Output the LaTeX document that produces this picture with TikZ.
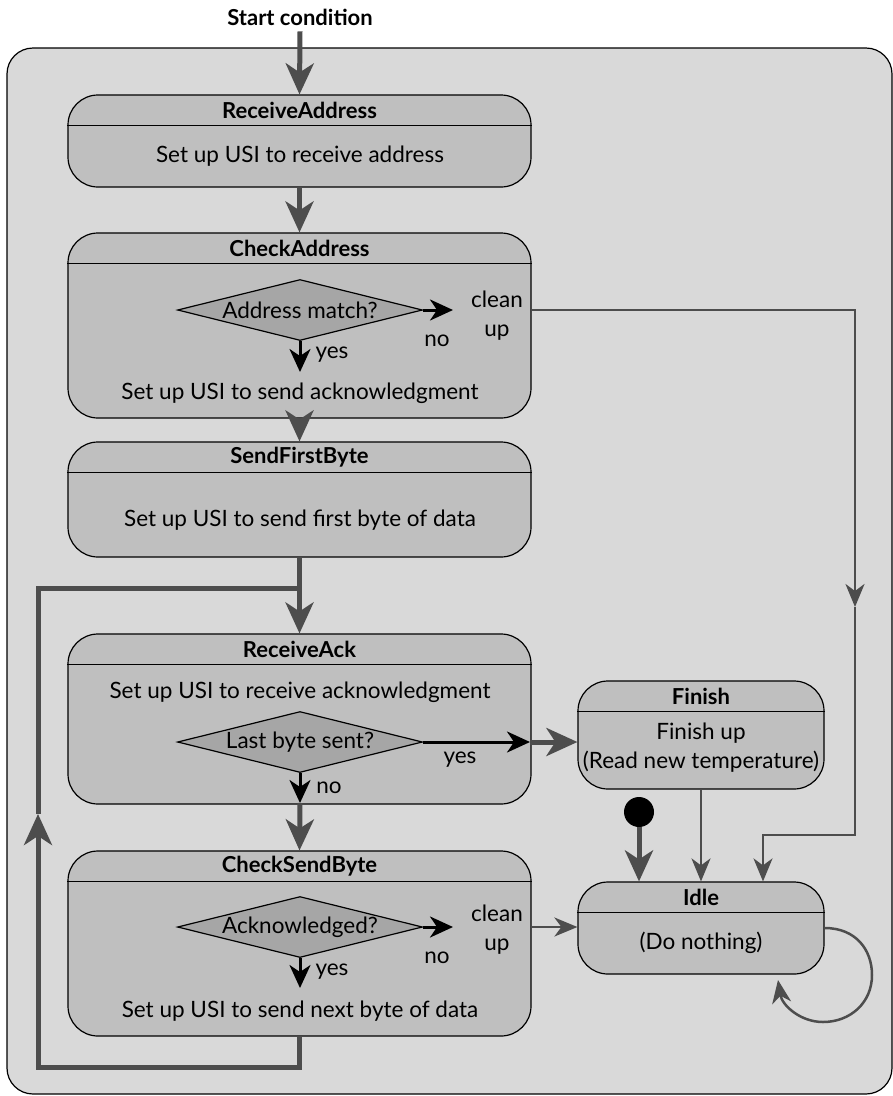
\documentclass[tikz,border=0pt]{standalone}
\usepackage{fontspec}
\setmainfont{Lato}
\usetikzlibrary{arrows.meta,shapes.geometric}

\definecolor{outerbg}{HTML}{D9D9D9}
\definecolor{statefill}{HTML}{BFBFBF}
\definecolor{decfill}{HTML}{A6A6A6}
\definecolor{flowgray}{HTML}{4D4D4D}

\tikzset{
  statebox/.style={draw=black,fill=statefill,line width=1.2pt,rounded corners=30pt,inner sep=0pt},
  decbox/.style={draw=black,fill=decfill,line width=1.2pt,diamond,aspect=4,inner sep=0pt,
    minimum width=245pt,minimum height=61pt},
  titletext/.style={font=\fontsize{22pt}{26pt}\selectfont\bfseries,inner sep=0pt},
  twoline/.style={align=center,font=\fontsize{22.5pt}{29pt}\selectfont,inner sep=0pt},
  gthick/.style={draw=flowgray,line width=5pt,-{Stealth[length=31pt,width=28pt,inset=9pt]}},
  gthin/.style={draw=flowgray,line width=2.5pt,-{Stealth[length=23pt,width=19pt,inset=7pt]}},
  barrow/.style={draw=black,line width=3pt,-{Stealth[length=23pt,width=21pt,inset=7pt]}}
}

\begin{document}
\begin{tikzpicture}[x=1pt,y=-1pt,font=\fontsize{22.5pt}{27pt}\selectfont]
\useasboundingbox (0,0) rectangle (893,1096);
\filldraw[fill=outerbg,draw=black,line width=1.2pt,rounded corners=26pt] (7,48) rectangle (892,1094);

% states
\node[statebox,minimum width=463pt,minimum height=92pt] (recvaddr) at (299.5,141) {};
\node[statebox,minimum width=463pt,minimum height=185pt] (chkaddr) at (299.5,325.5) {};
\node[statebox,minimum width=463pt,minimum height=115pt] (sendfirst) at (299.5,499.5) {};
\node[statebox,minimum width=463pt,minimum height=170pt] (recvack) at (299.5,719) {};
\node[statebox,minimum width=463pt,minimum height=185pt] (chksend) at (299.5,943.5) {};
\node[statebox,minimum width=246pt,minimum height=108pt] (finish) at (701,735) {};
\node[statebox,minimum width=246pt,minimum height=92pt] (idle) at (701,928) {};

\foreach \s/\t in {recvaddr/ReceiveAddress,chkaddr/CheckAddress,sendfirst/SendFirstByte,
    recvack/ReceiveAck,chksend/CheckSendByte,finish/Finish,idle/Idle} {
  \draw[line width=1.2pt] ([yshift=-31pt]\s.north west) -- ([yshift=-31pt]\s.north east);
  \node[titletext] (\s-title) at ([yshift=-16pt]\s.north) {\t};
}

\node (recvaddr-b) at (300,156) {Set up USI to receive address};
\node (chkaddr-b) at (300,393) {Set up USI to send acknowledgment};
\node (sendfirst-b) at (300,520) {Set up USI to send first byte of data};
\node (recvack-b) at (300,692) {Set up USI to receive acknowledgment};
\node (chksend-b) at (300,1011) {Set up USI to send next byte of data};
\node[twoline] (finish-b) at (701,748) {Finish up\\(Read new temperature)};
\node (idle-b) at (701,943) {(Do nothing)};

% decisions
\node[decbox] (addrq) at (300,310) {Address match?};
\node[decbox] (lastq) at (300,742) {Last byte sent?};
\node[decbox] (ackq) at (300,927) {Acknowledged?};

\coordinate (addrno) at (453,310);
\coordinate (addryes) at (300,372);
\coordinate (lastyes) at (530,742);
\coordinate (lastno) at (300,803);
\coordinate (ackno) at (453,927);
\coordinate (ackyes) at (300,988);

\draw[barrow] (addrq.east) -- (addrno);
\draw[barrow] (addrq.south) -- (addryes);
\draw[barrow] (lastq.east) -- (lastyes);
\draw[barrow] (lastq.south) -- (lastno);
\draw[barrow] (ackq.east) -- (ackno);
\draw[barrow] (ackq.south) -- (ackyes);

\node (addrno-l) at (437,341) {no};
\node (addryes-l) at (332,355) {yes};
\node[twoline] (addrclean) at (497,316) {clean\\up};
\node (lastyes-l) at (460,760) {yes};
\node (lastno-l) at (329,788) {no};
\node (ackno-l) at (437,958) {no};
\node (ackyes-l) at (332,972) {yes};
\node[twoline] (ackclean) at (497,930) {clean\\up};

% main flow
\node[titletext] (start) at (300,17) {Start condition};
\draw[gthick] ([yshift=-6pt]start.south) -- (recvaddr.north);
\draw[gthick] (recvaddr.south) -- (chkaddr.north);
\draw[gthick] (chkaddr.south) -- (sendfirst.north);
\draw[gthick] (sendfirst.south) -- (recvack.north);
\draw[gthick] (lastno) -- (chksend.north);
\draw[gthick] (lastyes) -- (finish.west |- lastyes);

% loop back
\coordinate (loopleft) at (38,1067);
\coordinate (looptip) at (38,814);
\coordinate (looptop) at (38,588);
\draw[gthick] (chksend.south) |- (loopleft) -- (looptip);
\draw[gthick,-] (looptip) -- (looptop) -- (looptop -| sendfirst.south);

% clean up
\coordinate (cu1) at (855,607);
\coordinate (cu2) at (763,835);
\draw[gthin] (chkaddr.east |- addrq) -| (cu1);
\draw[gthin] (cu1) |- (cu2) -- (cu2 |- idle.north);
\draw[gthin] (chksend.east |- ackq) -- (idle.west |- ackq);

% idle
\node[circle,fill=black,inner sep=0pt,minimum size=30pt] (init) at (639,812) {};
\draw[gthick] (init) -- (init |- idle.north);
\draw[gthin] (finish.south) -- (idle.north);
\draw[gthin] (idle.east) .. controls (856,928) and (872,950) .. (872,975)
  .. controls (872,1003) and (850,1022) .. (823,1022)
  .. controls (800,1022) and (782,1005) .. (778,980);
\end{tikzpicture}
\end{document}
